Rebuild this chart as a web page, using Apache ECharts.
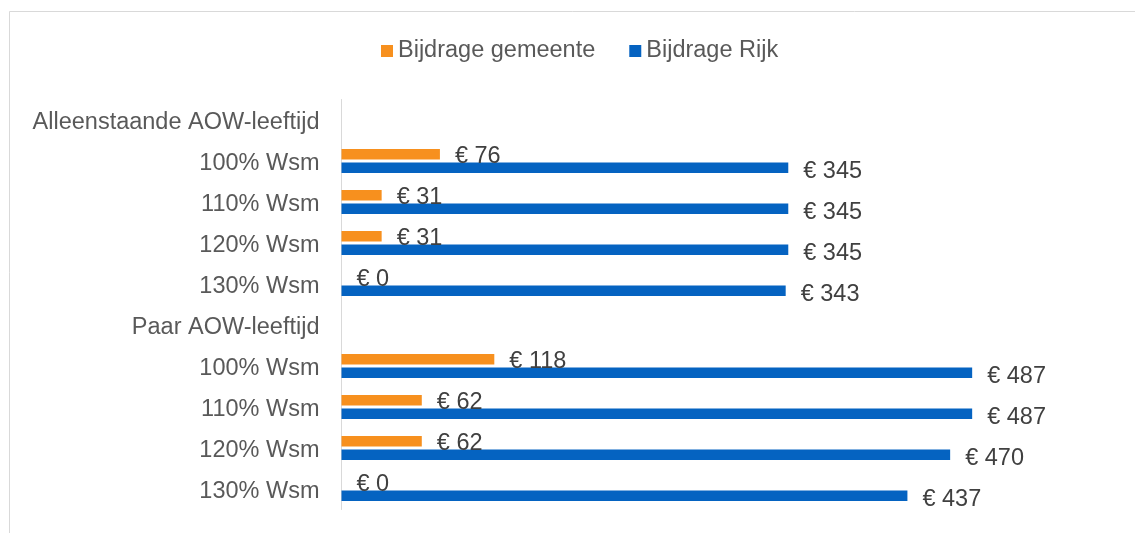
<!DOCTYPE html>
<html>
<head>
<meta charset="utf-8">
<script src="https://cdn.jsdelivr.net/npm/echarts@6/dist/echarts.min.js"></script>
<style>
html,body{margin:0;padding:0;background:#fff;}
#main{width:1135px;height:533px;}
</style>
</head>
<body>
<div id="main"></div>
<script>
var categories = ['Alleenstaande AOW-leeftijd', '100% Wsm', '110% Wsm', '120% Wsm', '130% Wsm',
                  'Paar AOW-leeftijd', '100% Wsm', '110% Wsm', '120% Wsm', '130% Wsm'];
var seriesNames = ['Bijdrage gemeente', 'Bijdrage Rijk'];
var gemeente = [null, 76, 31, 31, 0, null, 118, 62, 62, 0];
var rijk = [null, 345, 345, 345, 343, null, 487, 487, 470, 437];

var FONT = '"Liberation Sans", Arial, sans-serif';
var chart = echarts.init(document.getElementById('main'), null, {renderer: 'canvas'});
var labelFmt = function (p) { return '€ ' + p.value; };

chart.setOption({
  animation: false,
  backgroundColor: '#ffffff',
  graphic: [{
    type: 'rect',
    shape: {x: 9.5, y: 11.5, width: 1200, height: 600},
    style: {fill: 'none', stroke: '#d9d9d9', lineWidth: 1},
    silent: true,
    z: -1
  }],
  legend: {
    data: seriesNames,
    left: 376,
    top: 34,
    icon: 'rect',
    itemWidth: 12,
    itemHeight: 12,
    itemGap: 34,
    textStyle: {color: '#595959', fontSize: 23.5, fontFamily: FONT}
  },
  grid: {left: 341.5, top: 99.5, height: 410, width: 777, containLabel: false},
  xAxis: {
    type: 'value',
    min: 0,
    max: 600,
    show: false,
    splitLine: {show: false}
  },
  yAxis: {
    type: 'category',
    data: categories,
    inverse: true,
    axisTick: {show: false},
    axisLine: {show: true, lineStyle: {color: '#d9d9d9', width: 1}},
    axisLabel: {
      interval: 0,
      margin: 22,
      formatter: function (v) { return '{c|' + v + '}'; },
      rich: {
        c: {
          color: '#595959',
          fontSize: 23.5,
          fontFamily: FONT,
          padding: [5, 0, 0, 0]
        }
      }
    }
  },
  series: [{
    name: seriesNames[0],
    type: 'bar',
    data: gemeente,
    barWidth: 10.5,
    barGap: '30%',
    itemStyle: {color: '#F7901E'},
    label: {
      show: true,
      position: 'right',
      distance: 15,
      offset: [0, 2],
      formatter: labelFmt,
      color: '#404040',
      fontSize: 23.5,
      fontFamily: FONT
    }
  }, {
    name: seriesNames[1],
    type: 'bar',
    data: rijk,
    barWidth: 10.5,
    barGap: '30%',
    itemStyle: {color: '#0563C1'},
    label: {
      show: true,
      position: 'right',
      distance: 15,
      offset: [0, 4],
      formatter: labelFmt,
      color: '#404040',
      fontSize: 23.5,
      fontFamily: FONT
    }
  }]
});
</script>
</body>
</html>
